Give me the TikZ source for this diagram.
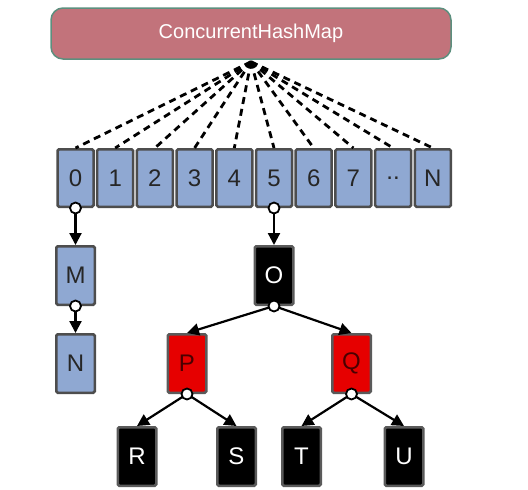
\documentclass[tikz,border=0pt]{standalone}
\usepackage{fontspec}
\setmainfont{Liberation Sans}
\usetikzlibrary{arrows.meta, positioning}
\definecolor{mapred}{HTML}{C2737B}
\definecolor{mapedge}{HTML}{5C8F7E}
\definecolor{cellblue}{HTML}{8FA8D2}
\definecolor{celledge}{HTML}{4D4D4D}
\definecolor{nodered}{HTML}{E60000}
\definecolor{redtext}{HTML}{4A0000}
\definecolor{blkedge}{HTML}{5A5A5A}

\begin{document}
\begin{tikzpicture}[
  x=1pt, y=1pt,
  font=\fontsize{24}{28}\selectfont,
  node distance=27pt and 0pt,
  head/.style={rectangle, draw=mapedge, line width=1.5pt, rounded corners=12pt,
    fill=mapred, text=white, minimum width=400pt, minimum height=51pt,
    font=\fontsize{20}{24}\selectfont},
  cell/.style={rectangle, draw=celledge, line width=2.5pt, fill=cellblue, rounded corners=1.5pt,
    text=black!85, minimum width=36pt, minimum height=57.5pt, inner sep=0pt},
  item/.style={cell, minimum width=38.5pt, minimum height=58.5pt},
  blk/.style={item, fill=black, text=white, draw=blkedge},
  redn/.style={item, fill=nodered, text=redtext, draw=blkedge},
  fan/.style={dash pattern=on 7pt off 5pt, line width=2.8pt},
  link/.style={-{Triangle[length=12pt, width=12pt]}, line width=2.2pt},
  knob/.style={circle, draw, line width=1.8pt, fill=white, minimum size=11pt, inner sep=0pt}
]
\useasboundingbox (0,0) rectangle (528,-490);

\node[head] (head) at (251,-33.5) {ConcurrentHashMap};

% bucket array
\foreach \t [count=\i from 0] in {0,1,2,3,4,5,6,7,{..},N}
  \node[cell] (c\i) at ({75.5+39.7*\i},-178) {\t};
\foreach \i in {0,...,9}
  \draw[fan] ([yshift=-2pt]head.south) -- (c\i.north);

% list in bucket 0
\node[item, below=37pt of c0] (M) {M};
\node[item, below=of M] (N) {N};

% tree in bucket 5
\node[blk, below=37pt of c5] (O) {O};
\node[redn, below=of O, xshift=-87pt] (P) {P};
\node[redn, below=of O, xshift=77.5pt] (Q) {Q};
\node[blk, below=32pt of P, xshift=-50pt] (R) {R};
\node[blk, below=32pt of P, xshift=49.5pt] (S) {S};
\node[blk, below=32pt of Q, xshift=-50pt] (T) {T};
\node[blk, below=32pt of Q, xshift=52.5pt] (U) {U};

\draw[link] (c0.south) -- (M.north) node[knob, pos=0]{};
\draw[link] (M.south) -- (N.north) node[knob, pos=0]{};
\draw[link] (c5.south) -- (O.north) node[knob, pos=0]{};
\draw[link] (O.south) -- (P.north);
\draw[link] (O.south) -- (Q.north) node[knob, pos=0]{};
\draw[link] (P.south) -- (R.north);
\draw[link] (P.south) -- (S.north) node[knob, pos=0]{};
\draw[link] (Q.south) -- (T.north);
\draw[link] (Q.south) -- (U.north) node[knob, pos=0]{};
\end{tikzpicture}
\end{document}
